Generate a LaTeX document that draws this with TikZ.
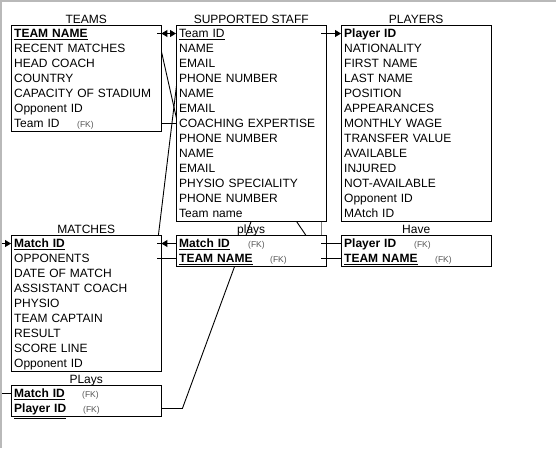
\documentclass[tikz,border=0pt]{standalone}
\usepackage{fontspec}
\setmainfont{Liberation Sans}
\usetikzlibrary{arrows.meta,backgrounds}

\definecolor{fkgray}{HTML}{555555}
\newcommand{\fk}[2]{\makebox[#1][l]{#2}{\fontsize{8.5}{10}\selectfont\color{fkgray}(FK)}}
\newcommand{\pk}[1]{\underline{\textbf{#1}}}
\newcommand{\pkk}[1]{\underline{\underline{\textbf{#1}}}}

\begin{document}
\begin{tikzpicture}[
    x=1pt, y=-1pt,
    row/.style={
        anchor=west, fill=white, align=left,
        minimum width=150pt, minimum height=15pt, text width=144pt,
        inner xsep=3pt, inner ysep=0pt, text height=10pt, text depth=2.4pt,
        font=\fontsize{12}{14}\selectfont
    },
    title/.style={anchor=base, inner sep=0pt, font=\fontsize{12}{14}\selectfont},
    box/.style={line width=1pt},
    link/.style={line width=0.9pt},
    tip/.style={-{Triangle[length=6pt,width=7pt]}},
    frame/.style={color=gray!55, line width=1.8pt}
]

\useasboundingbox (0,0) rectangle (556,448);

% TEAMS
\node[row] (tm-name) at (11,33.5) {\pk{TEAM NAME}};
\node[row] (tm-recent) at (11,48.5) {RECENT MATCHES};
\node[row] (tm-coach) at (11,63.5) {HEAD COACH};
\node[row] (tm-country) at (11,78.5) {COUNTRY};
\node[row] (tm-stadium) at (11,93.5) {CAPACITY OF STADIUM};
\node[row] (tm-opp) at (11,108.5) {Opponent ID};
\node[row] (tm-team) at (11,123.5) {\fk{63pt}{Team ID}};
\node[title] (tm-title) at ([yshift=2.5pt]tm-name.north) {TEAMS};

% SUPPORTED STAFF
\node[row] (st-id) at (176,33.5) {\underline{Team ID}};
\node[row] (st-name1) at (176,48.5) {NAME};
\node[row] (st-mail1) at (176,63.5) {EMAIL};
\node[row] (st-phone1) at (176,78.5) {PHONE NUMBER};
\node[row] (st-name2) at (176,93.5) {NAME};
\node[row] (st-mail2) at (176,108.5) {EMAIL};
\node[row] (st-coach) at (176,123.5) {COACHING EXPERTISE};
\node[row] (st-phone2) at (176,138.5) {PHONE NUMBER};
\node[row] (st-name3) at (176,153.5) {NAME};
\node[row] (st-mail3) at (176,168.5) {EMAIL};
\node[row] (st-physio) at (176,183.5) {PHYSIO SPECIALITY};
\node[row] (st-phone3) at (176,198.5) {PHONE NUMBER};
\node[row] (st-tname) at (176,213.5) {Team name};
\node[title] (st-title) at ([yshift=2.5pt]st-id.north) {SUPPORTED STAFF};

% PLAYERS
\node[row] (py-id) at (341,33.5) {\pk{Player ID}};
\node[row] (py-nat) at (341,48.5) {NATIONALITY};
\node[row] (py-first) at (341,63.5) {FIRST NAME};
\node[row] (py-last) at (341,78.5) {LAST NAME};
\node[row] (py-pos) at (341,93.5) {POSITION};
\node[row] (py-app) at (341,108.5) {APPEARANCES};
\node[row] (py-wage) at (341,123.5) {MONTHLY WAGE};
\node[row] (py-value) at (341,138.5) {TRANSFER VALUE};
\node[row] (py-avail) at (341,153.5) {AVAILABLE};
\node[row] (py-inj) at (341,168.5) {INJURED};
\node[row] (py-notav) at (341,183.5) {NOT-AVAILABLE};
\node[row] (py-opp) at (341,198.5) {Opponent ID};
\node[row] (py-mid) at (341,213.5) {MAtch ID};
\node[title] (py-title) at ([yshift=2.5pt]py-id.north) {PLAYERS};

% MATCHES
\node[row] (mt-id) at (11,243.5) {\pk{Match ID}};
\node[row] (mt-opp) at (11,258.5) {OPPONENTS};
\node[row] (mt-date) at (11,273.5) {DATE OF MATCH};
\node[row] (mt-asst) at (11,288.5) {ASSISTANT COACH};
\node[row] (mt-physio) at (11,303.5) {PHYSIO};
\node[row] (mt-capt) at (11,318.5) {TEAM CAPTAIN};
\node[row] (mt-result) at (11,333.5) {RESULT};
\node[row] (mt-score) at (11,348.5) {SCORE LINE};
\node[row] (mt-oppid) at (11,363.5) {Opponent ID};
\node[title] (mt-title) at ([yshift=2.5pt]mt-id.north) {MATCHES};

% plays, Have, PLays
\node[row] (ps-mid) at (176,243.5) {\fk{69pt}{\pk{Match ID}}};
\node[row] (ps-tname) at (176,258.5) {\fk{91pt}{\pkk{TEAM NAME}}};
\node[title] (ps-title) at ([yshift=2.5pt]ps-mid.north) {plays};

\node[row] (hv-pid) at (341,243.5) {\fk{70pt}{\pk{Player ID}}};
\node[row] (hv-tname) at (341,258.5) {\fk{91pt}{\pkk{TEAM NAME}}};
\node[title] (hv-title) at ([yshift=2.5pt]hv-pid.north) {Have};

\node[row] (pl-mid) at (11,393.5) {\fk{68pt}{\pk{Match ID}}};
\node[row] (pl-pid) at (11,408.5) {\fk{69pt}{\pkk{Player ID}}};
\node[title] (pl-title) at ([yshift=2.5pt]pl-mid.north) {PLays};

% table outlines
\draw[box] (tm-name.north west) rectangle (tm-team.south east);
\draw[box] (st-id.north west) rectangle (st-tname.south east);
\draw[box] (py-id.north west) rectangle (py-mid.south east);
\draw[box] (mt-id.north west) rectangle (mt-oppid.south east);
\draw[box] (ps-mid.north west) rectangle (ps-tname.south east);
\draw[box] (hv-pid.north west) rectangle (hv-tname.south east);
\draw[box] (pl-mid.north west) rectangle (pl-pid.south east);

% links behind the tables
\begin{scope}[on background layer]
\draw[frame] (0,1) -- (556,1);
\draw[frame] (1,0) -- (1,448);
\draw[link] ([xshift=-4pt]tm-name.east) -- ([xshift=5pt]st-phone2.west);
\draw[link] ([xshift=-4pt]mt-id.east) -- ([xshift=5pt]st-name1.west);
\draw[link] (st-tname.south) -- ([xshift=21pt]pl-pid.east) -- (pl-pid.east);
\draw[link] ([xshift=-30pt]st-tname.south east) -- ([xshift=-5pt]ps-tname.east);
\draw[frame, color=gray] ([xshift=-5pt]st-tname.south east) -- ([xshift=-5pt]ps-mid.east);
\end{scope}

% links
\coordinate (mt-in) at (2,243.5);
\coordinate (pl-in) at (2,393.5);
\draw[link] ([xshift=-4pt]tm-name.east) -- (tm-name.east);
\draw[link, {Triangle[length=6pt,width=7pt]}-{Triangle[length=6pt,width=7pt]}] (tm-name.east) -- (st-id.west);
\draw[link, tip] ([xshift=-5pt]st-id.east) -- (py-id.west);
\draw[link] (tm-team.east) -- (st-coach.west);
\draw[link] ([xshift=-4pt]mt-id.east) -- (mt-id.east);
\draw[link, {Triangle[length=6pt,width=7pt]}-] (mt-id.east) -- (ps-mid.west);
\draw[link] ([xshift=-4pt]mt-opp.east) -- (ps-tname.west);
\draw[link] ([xshift=-5pt]ps-mid.east) -- (hv-pid.west);
\draw[link] ([xshift=-5pt]ps-tname.east) -- (hv-tname.west);
\draw[link, tip] (mt-in) -- (mt-id.west);
\draw[link] (pl-in) -- (pl-mid.west);

\end{tikzpicture}
\end{document}
